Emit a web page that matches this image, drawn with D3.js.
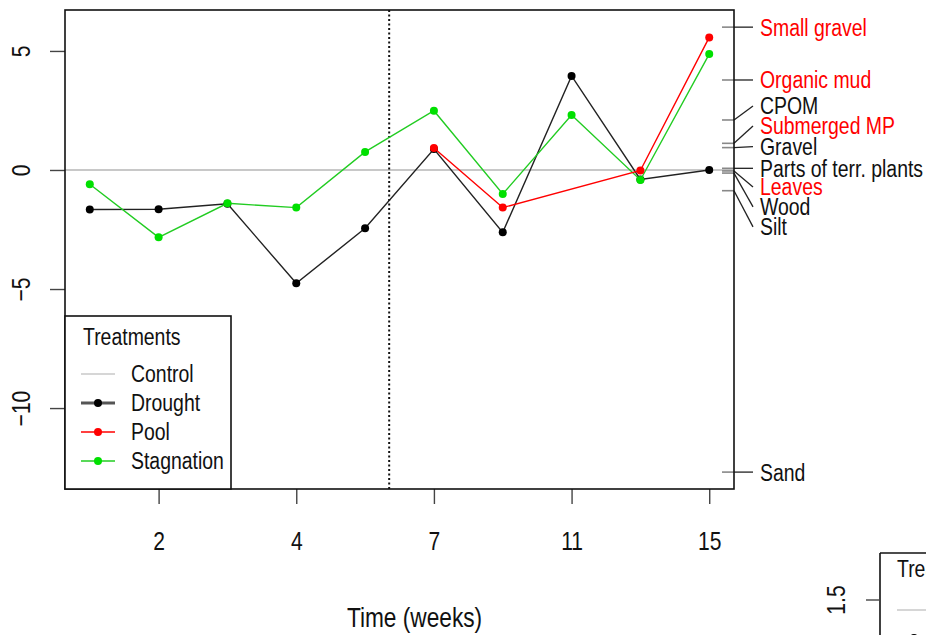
<!DOCTYPE html>
<html>
<head>
<meta charset="utf-8">
<script src="https://cdn.jsdelivr.net/npm/d3@7"></script>
<style>
  body { margin: 0; background: #fff; }
  svg { display: block; }
  text { font-family: "Liberation Sans", Arial, sans-serif; fill: #111; }
</style>
</head>
<body>
<svg id="chart" width="926" height="635"></svg>
<script>
// Sampling occasions (plotted at equal spacing) and their week labels
const sampleIndex = [1, 2, 3, 4, 5, 6, 7, 8, 9, 10];
const tickIndex = [2, 4, 6, 8, 10];
const tickLabels = ["2", "4", "7", "11", "15"];
const yTicks = [5, 0, -5, -10];

// Treatment responses relative to the control
const drought = [-1.66, -1.65, -1.42, -4.76, -2.45, 0.88, -2.62, 3.95, -0.40, 0.00];
const stagnation = [-0.60, -2.83, -1.40, -1.58, 0.76, 2.49, -1.01, 2.31, -0.42, 4.87];
const poolIndex = [6, 7, 9, 10];
const pool = [0.92, -1.58, -0.02, 5.57];
const controlLevel = 0;

// Start of the flow-manipulation phase
const phaseStart = 5.35;

// Substrate scores shown on the right-hand axis
const substrates = ["Small gravel", "Organic mud", "CPOM", "Submerged MP", "Gravel",
  "Parts of terr. plants", "Leaves", "Wood", "Silt", "Sand"];
const substrateScore = [6.00, 3.78, 2.10, 1.12, 0.94, 0.07, -0.04, -0.13, -0.87, -12.69];
const substrateLabelAt = [6.00, 3.78, 2.69, 1.85, 0.98, 0.07, -0.71, -1.55, -2.39, -12.69];
const substrateFlagged = [true, true, false, true, false, false, true, false, false, false];

const treatments = ["Control", "Drought", "Pool", "Stagnation"];

const RED = "#ff0000", GREEN = "#00e000", GREY = "#c8c8c8";
const NARROW = 0.81; // condensed glyph width used for all text

const svg = d3.select("#chart");
const plot = { left: 65, right: 734, top: 10, bottom: 489 };

const x = d3.scaleLinear().domain([0.64, 10.36]).range([plot.left, plot.right]);
const y = d3.scaleLinear().domain([-13.40, 6.72]).range([plot.bottom, plot.top]);

// Condensed text placed at (tx, ty)
function label(parent, tx, ty, str, size, opts = {}) {
  const t = parent.append("text")
    .attr("transform", `translate(${tx},${ty})${opts.rotate ? " rotate(" + opts.rotate + ")" : ""} scale(${NARROW},1)`)
    .attr("font-size", size)
    .attr("text-anchor", opts.anchor || "start")
    .attr("dy", opts.dy == null ? "0.35em" : opts.dy)
    .text(str);
  if (opts.fill) t.style("fill", opts.fill);
  return t;
}

// Control reference line
svg.append("line")
  .attr("x1", plot.left).attr("x2", plot.right)
  .attr("y1", y(controlLevel)).attr("y2", y(controlLevel))
  .attr("stroke", GREY).attr("stroke-width", 2);

// Phase boundary
svg.append("line")
  .attr("x1", x(phaseStart)).attr("x2", x(phaseStart))
  .attr("y1", plot.top).attr("y2", plot.bottom)
  .attr("stroke", "#111").attr("stroke-width", 2)
  .attr("stroke-dasharray", "2,2.5");

// Substrate ticks and connectors on the right axis
const subG = svg.append("g");
substrates.forEach((name, i) => {
  const ty = y(substrateScore[i]);
  const ly = y(substrateLabelAt[i]);
  subG.append("line")
    .attr("x1", plot.right - 12).attr("x2", plot.right)
    .attr("y1", ty).attr("y2", ty)
    .attr("stroke", "#888").attr("stroke-width", 1.6);
  subG.append("line")
    .attr("x1", plot.right).attr("x2", plot.right + 19)
    .attr("y1", ty).attr("y2", ly)
    .attr("stroke", "#222").attr("stroke-width", 1.3);
  label(subG, plot.right + 26, ly, name, 24, { fill: substrateFlagged[i] ? RED : "#111" });
});

// Treatment series
const line = d3.line();
function drawSeries(xs, ys, lineColour, pointColour) {
  const pts = xs.map((d, i) => [x(d), y(ys[i])]);
  svg.append("path").attr("d", line(pts))
    .attr("fill", "none").attr("stroke", lineColour).attr("stroke-width", 1.4);
  svg.append("g").selectAll("circle").data(pts).join("circle")
    .attr("cx", d => d[0]).attr("cy", d => d[1]).attr("r", 4)
    .attr("fill", pointColour);
}
drawSeries(sampleIndex, drought, "#222", "#000");
drawSeries(sampleIndex, stagnation, "#22cc22", GREEN);
drawSeries(poolIndex, pool, RED, RED);

// Axes
const xAxis = svg.append("g")
  .attr("transform", `translate(0,${plot.bottom})`)
  .call(d3.axisBottom(x).tickValues(tickIndex).tickFormat((d, i) => tickLabels[i])
    .tickSize(15).tickPadding(28));
xAxis.select(".domain").remove();
xAxis.selectAll("line").attr("stroke", "#444").attr("stroke-width", 1.4);
xAxis.selectAll("text")
  .attr("transform", `scale(${NARROW},1)`)
  .attr("font-size", 26).attr("font-family", null).style("fill", "#111");

const yAxis = svg.append("g")
  .attr("transform", `translate(${plot.left},0)`)
  .call(d3.axisLeft(y).tickValues(yTicks).tickSize(15));
yAxis.select(".domain").remove();
yAxis.selectAll("line").attr("stroke", "#444").attr("stroke-width", 1.4);
yAxis.selectAll("text")
  .attr("transform", `rotate(-90) scale(${NARROW},1)`)
  .attr("x", 0).attr("y", -35).attr("dy", 0)
  .attr("text-anchor", "middle")
  .attr("font-size", 26).attr("font-family", null).style("fill", "#111");

// Plot frame
svg.append("rect")
  .attr("x", plot.left).attr("y", plot.top)
  .attr("width", plot.right - plot.left).attr("height", plot.bottom - plot.top)
  .attr("fill", "none").attr("stroke", "#111").attr("stroke-width", 1.6);

// Axis title
label(svg, (plot.left + plot.right) / 2 + 15, 627, "Time (weeks)", 28, { anchor: "middle", dy: 0 });

// Legend
const leg = svg.append("g");
leg.append("rect")
  .attr("x", plot.left).attr("y", 316).attr("width", 166).attr("height", plot.bottom - 316)
  .attr("fill", "#fff").attr("stroke", "#111").attr("stroke-width", 1.6);
label(leg, 83, 337, "Treatments", 24);
const legStyle = {
  Control: { stroke: GREY, width: 1.5, point: null },
  Drought: { stroke: "#555", width: 3, point: "#000" },
  Pool: { stroke: RED, width: 1.5, point: RED },
  Stagnation: { stroke: "#22cc22", width: 1.5, point: GREEN }
};
treatments.forEach((t, i) => {
  const ly = 374 + i * 29;
  const s = legStyle[t];
  leg.append("line").attr("x1", 81).attr("x2", 115).attr("y1", ly).attr("y2", ly)
    .attr("stroke", s.stroke).attr("stroke-width", s.width);
  if (s.point) leg.append("circle").attr("cx", 98).attr("cy", ly).attr("r", 4).attr("fill", s.point);
  label(leg, 131, ly, t, 24);
});

// Neighbouring panel, cut off at the lower right
const nb = svg.append("g");
nb.append("line").attr("x1", 880).attr("x2", 940).attr("y1", 553).attr("y2", 553)
  .attr("stroke", "#111").attr("stroke-width", 1.6);
nb.append("line").attr("x1", 880).attr("x2", 880).attr("y1", 553).attr("y2", 640)
  .attr("stroke", "#111").attr("stroke-width", 1.6);
nb.append("line").attr("x1", 866).attr("x2", 880).attr("y1", 600).attr("y2", 600)
  .attr("stroke", "#444").attr("stroke-width", 1.4);
label(nb, 845, 600, "1.5", 26, { anchor: "middle", rotate: -90, dy: 0 });
label(nb, 897, 569, "Treatments", 24);
nb.append("line").attr("x1", 897).attr("x2", 940).attr("y1", 610).attr("y2", 610)
  .attr("stroke", GREY).attr("stroke-width", 1.5);
nb.append("circle").attr("cx", 914).attr("cy", 638).attr("r", 4).attr("fill", "#000");
</script>
</body>
</html>
